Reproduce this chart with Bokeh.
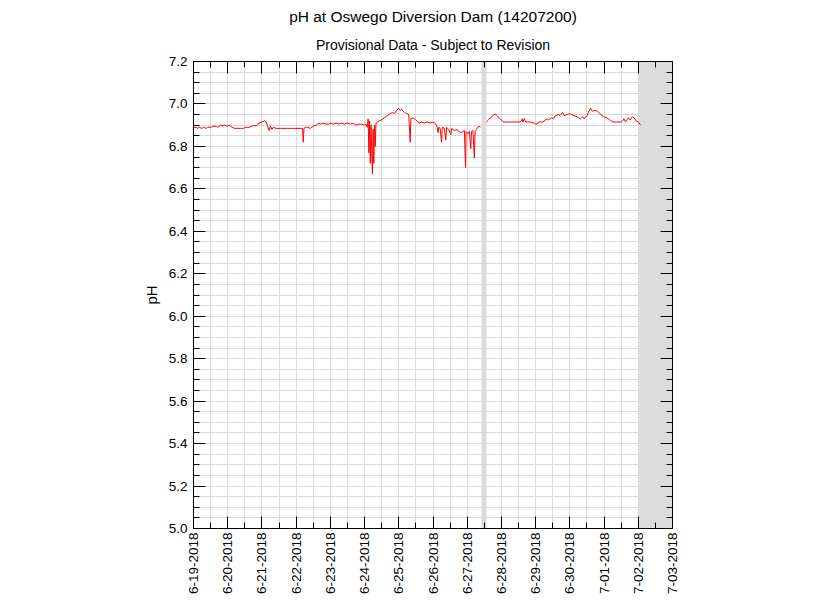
import numpy as np
from bokeh.plotting import figure
from bokeh.models import (FixedTicker, LinearAxis, Range1d, BoxAnnotation, Title,
                          ColumnDataSource)
from bokeh.embed import file_html
from bokeh.resources import INLINE

title_text = "pH at Oswego Diversion Dam (14207200)"
subtitle_text = "Provisional Data - Subject to Revision"
y_label = "pH"

date_labels = ["6-19-2018", "6-20-2018", "6-21-2018", "6-22-2018", "6-23-2018",
               "6-24-2018", "6-25-2018", "6-26-2018", "6-27-2018", "6-28-2018",
               "6-29-2018", "6-30-2018", "7-01-2018", "7-02-2018", "7-03-2018"]
y_ticks = [5.0, 5.2, 5.4, 5.6, 5.8, 6.0, 6.2, 6.4, 6.6, 6.8, 7.0, 7.2]
y_tick_labels = ["5.0", "5.2", "5.4", "5.6", "5.8", "6.0", "6.2", "6.4", "6.6",
                 "6.8", "7.0", "7.2"]
y_minor = [5.0, 5.05, 5.1, 5.15, 5.2, 5.25, 5.3, 5.35, 5.4, 5.45, 5.5, 5.55, 5.6,
           5.65, 5.7, 5.75, 5.8, 5.85, 5.9, 5.95, 6.0, 6.05, 6.1, 6.15, 6.2, 6.25,
           6.3, 6.35, 6.4, 6.45, 6.5, 6.55, 6.6, 6.65, 6.7, 6.75, 6.8, 6.85, 6.9,
           6.95, 7.0, 7.05, 7.1, 7.15, 7.2]

# hours since 6-19-2018 00:00
hours = [0, 2, 3, 4, 6, 7, 9, 10, 12, 14, 16, 17, 19, 20, 22, 24, 25, 27, 29, 31,
         33, 35, 37, 39, 41, 43, 44, 46, 48, 50, 51, 52, 53, 54, 55, 56, 58, 62, 66,
         70, 74, 76.5, 77, 77.5, 78.5, 80, 82, 84, 86, 88, 89, 91, 93, 95, 96, 98,
         100, 102, 104, 106, 108, 110, 112, 114, 116, 118, 120, 121, 122, 122.5,
         123, 123.5, 124, 124.5, 125.5, 126, 126.5, 127, 127.5, 128, 129, 130, 132,
         134, 136, 138, 139.5, 141, 142, 143.8, 145, 146, 148, 149.5, 151, 152,
         152.5, 154, 156, 158, 160, 162, 164, 166, 168, 170, 171, 171.5, 172, 173,
         174, 174.5, 176, 177, 177.5, 179, 180.5, 181, 183, 185, 186, 188, 190,
         190.8, 191.2, 192.5, 193.5, 194.5, 195, 196, 197, 197.5, 198.5, 200, 201.3,
         203,
         205.5, 207, 209, 211.5, 213, 215, 217.5, 221, 225, 229, 230, 230.5, 231,
         232, 233, 236, 239, 240, 241, 242, 245, 247, 248, 249, 251, 252.5, 254,
         256, 257, 258.9, 260, 262, 264, 265, 267, 269, 270, 271.5, 273, 274, 276,
         277, 278.5, 280, 281.5, 283.4, 285, 287.6, 290, 292, 294, 297, 300, 301,
         302, 303, 304, 305, 306, 308, 309, 310.5, 312, 313.6]
ph = [6.89, 6.89, 6.885, 6.89, 6.885, 6.89, 6.885, 6.89, 6.89, 6.895, 6.895, 6.89,
      6.90, 6.895, 6.90, 6.895, 6.90, 6.89, 6.885, 6.885, 6.885, 6.885, 6.89, 6.89,
      6.895, 6.90, 6.895, 6.91, 6.915, 6.92, 6.915, 6.895, 6.875, 6.895, 6.88, 6.89,
      6.885, 6.885, 6.885, 6.885, 6.885, 6.885, 6.82, 6.885, 6.89, 6.89, 6.885,
      6.895, 6.90, 6.91, 6.905, 6.91, 6.905, 6.905, 6.91, 6.905, 6.91, 6.905, 6.91,
      6.905, 6.91, 6.905, 6.91, 6.90, 6.905, 6.905, 6.90, 6.905, 6.89, 6.93, 6.77,
      6.92, 6.72, 6.90, 6.67, 6.88, 6.72, 6.90, 6.80, 6.91, 6.915, 6.92, 6.925,
      6.935, 6.945, 6.955, 6.96, 6.955, 6.965, 6.98, 6.97, 6.975, 6.96, 6.955, 6.95,
      6.82, 6.93, 6.935, 6.925, 6.91, 6.915, 6.91, 6.915, 6.91, 6.915, 6.905, 6.89,
      6.865, 6.89, 6.885, 6.82, 6.89, 6.885, 6.83, 6.89, 6.88, 6.855, 6.885, 6.875,
      6.88, 6.87, 6.865, 6.875, 6.70, 6.87, 6.86, 6.87, 6.79, 6.87, 6.875, 6.745,
      6.87, 6.88, 6.895, 6.89,
      float("nan"),
      6.915, 6.925, 6.94, 6.953, 6.945, 6.93, 6.915, 6.915, 6.915, 6.915, 6.92,
      6.93, 6.915, 6.93, 6.915, 6.915, 6.91, 6.905, 6.905, 6.915, 6.915, 6.925,
      6.93, 6.925, 6.935, 6.93, 6.945, 6.95, 6.945, 6.96, 6.945, 6.95, 6.955, 6.95,
      6.945, 6.94, 6.935, 6.93, 6.94, 6.93, 6.945, 6.96, 6.98, 6.965, 6.97, 6.965,
      6.955, 6.94, 6.935, 6.925, 6.915, 6.915, 6.915, 6.92, 6.93, 6.915, 6.925,
      6.935, 6.925, 6.94, 6.935, 6.92, 6.915, 6.90]

# gap in record (hours) and shaded future period (days)
gap_start_hour, gap_end_hour = 202.0, 205.5
shade_start_day, shade_end_day = 13, 14

days = np.array(hours, dtype=float) / 24.0
src = ColumnDataSource(data=dict(x=days, y=np.array(ph, dtype=float)))

n_days = len(date_labels)
day_ticks = list(range(n_days))
half_days = [d + 0.5 for d in range(n_days - 1)]

FONT = "Liberation Sans"

p = figure(width=824, height=600, output_backend="svg", toolbar_location=None,
           title=None, x_range=Range1d(0, n_days - 1), y_range=Range1d(5.0, 7.2),
           min_border_left=193, min_border_right=152, min_border_top=61,
           min_border_bottom=72, x_axis_location="below", y_axis_location="left")
p.background_fill_color = "white"
p.border_fill_color = "white"
p.outline_line_color = "black"
p.outline_line_width = 1

xt = FixedTicker(ticks=day_ticks, minor_ticks=half_days)
yt = FixedTicker(ticks=y_ticks, minor_ticks=y_minor)

# grids
grid_col = "#dadada"
p.xgrid.ticker = xt
p.ygrid.ticker = yt
for g in (p.xgrid, p.ygrid):
    g.grid_line_color = grid_col
    g.minor_grid_line_color = grid_col
    g.grid_line_width = 1
    g.minor_grid_line_width = 1

# shaded bands
p.add_layout(BoxAnnotation(left=gap_start_hour / 24.0, right=gap_end_hour / 24.0,
                           fill_color="#dcdcdc", fill_alpha=1, line_color=None,
                           level="underlay"))
p.add_layout(BoxAnnotation(left=shade_start_day, right=shade_end_day,
                           fill_color="#dcdcdc", fill_alpha=1, line_color=None,
                           level="underlay"))

p.line("x", "y", source=src, line_color="red", line_width=1)

def style_axis(ax, show_labels):
    ax.axis_line_color = "black"
    ax.major_tick_line_color = "black"
    ax.minor_tick_line_color = "black"
    ax.major_tick_in = 12
    ax.major_tick_out = 0
    ax.minor_tick_in = 6
    ax.minor_tick_out = 0
    ax.major_label_text_font = FONT
    ax.major_label_text_color = "black"
    if not show_labels:
        ax.major_label_text_font_size = "0px"
        ax.major_label_standoff = 0

# bottom
xa = p.xaxis[0]
xa.ticker = xt
xa.major_label_overrides = {d: lab for d, lab in zip(day_ticks, date_labels)}
style_axis(xa, True)
xa.major_label_orientation = np.pi / 2
xa.major_label_text_font_size = "13.5px"
xa.major_label_standoff = 4

# left
ya = p.yaxis[0]
ya.ticker = yt
ya.major_label_overrides = {t: lab for t, lab in zip(y_ticks, y_tick_labels)}
style_axis(ya, True)
ya.major_label_text_font_size = "13.5px"
ya.major_label_standoff = 6
ya.axis_label = y_label
ya.axis_label_text_font = FONT
ya.axis_label_text_font_size = "15px"
ya.axis_label_text_font_style = "normal"
ya.axis_label_text_color = "black"
ya.axis_label_standoff = 6

# top & right mirror axes
top = LinearAxis(ticker=xt)
style_axis(top, False)
top.major_label_overrides = {d: "" for d in day_ticks}
p.add_layout(top, "above")
right = LinearAxis(ticker=yt)
style_axis(right, False)
right.major_label_overrides = {t: "" for t in y_ticks}
p.add_layout(right, "right")

# titles (first added is nearest the frame)
p.add_layout(Title(text=subtitle_text, align="center", text_font=FONT,
                   text_font_size="14px", text_font_style="normal",
                   text_color="black", standoff=18), "above")
p.add_layout(Title(text=title_text, align="center", text_font=FONT,
                   text_font_size="15.5px", text_font_style="normal",
                   text_color="black", standoff=1), "above")

open("out.html", "w").write(file_html(p, INLINE))
